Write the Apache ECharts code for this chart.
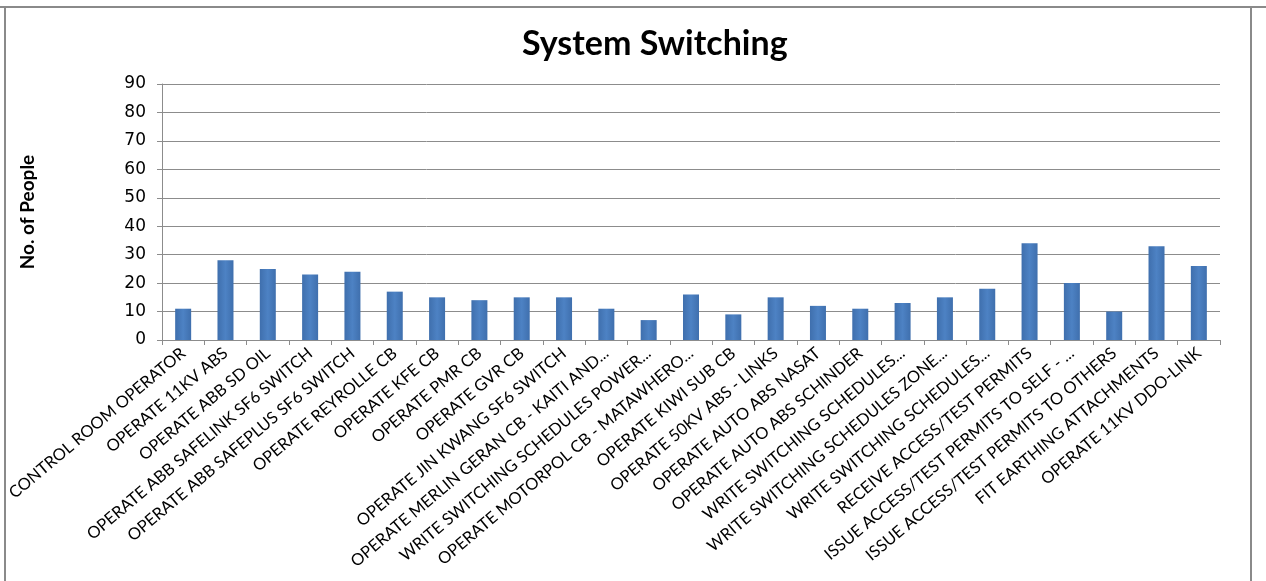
<!DOCTYPE html>
<html>
<head>
<meta charset="utf-8">
<script src="https://cdn.jsdelivr.net/npm/echarts@6/dist/echarts.min.js"></script>
<style>
  html, body { margin: 0; padding: 0; background: #ffffff; }
  #chart { width: 1266px; height: 581px; }
</style>
</head>
<body>
<div id="chart"></div>
<script>
// Training categories (x axis)
const categories = [
  'CONTROL ROOM OPERATOR',
  'OPERATE 11KV ABS',
  'OPERATE ABB SD OIL',
  'OPERATE ABB SAFELINK SF6 SWITCH',
  'OPERATE ABB SAFEPLUS SF6 SWITCH',
  'OPERATE REYROLLE CB',
  'OPERATE KFE CB',
  'OPERATE PMR CB',
  'OPERATE GVR CB',
  'OPERATE JIN KWANG SF6 SWITCH',
  'OPERATE MERLIN GERAN CB - KAITI AND...',
  'WRITE SWITCHING SCHEDULES POWER...',
  'OPERATE MOTORPOL CB - MATAWHERO...',
  'OPERATE KIWI SUB CB',
  'OPERATE 50KV ABS - LINKS',
  'OPERATE AUTO ABS NASAT',
  'OPERATE AUTO ABS SCHINDER',
  'WRITE SWITCHING SCHEDULES...',
  'WRITE SWITCHING SCHEDULES ZONE...',
  'WRITE SWITCHING SCHEDULES...',
  'RECEIVE ACCESS/TEST PERMITS',
  'ISSUE ACCESS/TEST PERMITS TO SELF - ...',
  'ISSUE ACCESS/TEST PERMITS TO OTHERS',
  'FIT EARTHING ATTACHMENTS',
  'OPERATE 11KV DDO-LINK'
];

// Number of people per category
const people = [11, 28, 25, 23, 24, 17, 15, 14, 15, 15, 11, 7, 16, 9, 15, 12, 11, 13, 15, 18, 34, 20, 10, 33, 26];

// Value axis range
const yMin = 0;
const yMax = 90;
const yStep = 10;

const chart = echarts.init(document.getElementById('chart'));

chart.setOption({
  backgroundColor: '#ffffff',
  animation: false,
  title: {
    text: 'System Switching',
    left: 517,
    top: 22,
    textStyle: {
      fontFamily: 'Lato',
      fontWeight: 'bold',
      fontSize: 34,
      color: '#000000'
    }
  },
  grid: {
    left: 162,
    right: 46,
    top: 84,
    bottom: 241,
    containLabel: false,
    outerBoundsMode: 'none'
  },
  xAxis: {
    type: 'category',
    data: categories,
    axisLine: { show: true, lineStyle: { color: '#8c8c8c', width: 1 } },
    axisTick: { show: true, alignWithLabel: false, length: 5, lineStyle: { color: '#8c8c8c' } },
    axisLabel: {
      interval: 0,
      rotate: 40,
      margin: 11,
      fontFamily: 'Lato',
      fontSize: 16.5,
      color: '#000000'
    }
  },
  yAxis: {
    type: 'value',
    min: yMin,
    max: yMax,
    interval: yStep,
    name: 'No. of People',
    nameLocation: 'middle',
    nameGap: 125,
    nameRotate: 90,
    nameTextStyle: {
      fontFamily: 'Lato',
      fontWeight: 'bold',
      fontSize: 19,
      color: '#000000'
    },
    axisLine: { show: true, lineStyle: { color: '#8c8c8c', width: 1 } },
    axisTick: { show: true, length: 5, lineStyle: { color: '#8c8c8c' } },
    axisLabel: {
      margin: 16,
      fontFamily: 'DejaVu Sans',
      fontSize: 17,
      color: '#000000'
    },
    splitLine: { show: true, lineStyle: { color: '#8c8c8c', width: 1 } }
  },
  series: [{
    type: 'bar',
    data: people,
    barWidth: 16,
    itemStyle: {
      color: new echarts.graphic.LinearGradient(0, 0, 1, 0, [
        { offset: 0, color: '#3f6fad' },
        { offset: 0.5, color: '#4d82c4' },
        { offset: 1, color: '#3f6fad' }
      ])
    }
  }],
  graphic: [
    // frame around the chart
    { type: 'rect', shape: { x: 0, y: 6, width: 1266, height: 2 }, style: { fill: '#8a8a8a' } },
    { type: 'rect', shape: { x: 4, y: 6, width: 2, height: 575 }, style: { fill: '#8a8a8a' } },
    { type: 'rect', shape: { x: 1250, y: 6, width: 2, height: 575 }, style: { fill: '#8a8a8a' } }
  ]
});
</script>
</body>
</html>
